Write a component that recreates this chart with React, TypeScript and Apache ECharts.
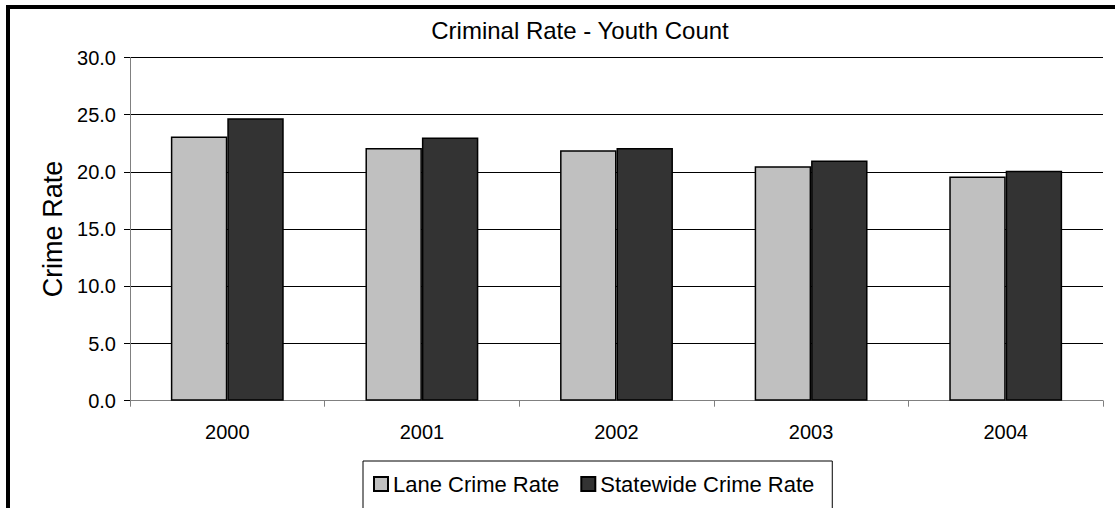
import React, { useEffect, useRef } from "react";
import * as echarts from "echarts";

const years = ["2000", "2001", "2002", "2003", "2004"];
const laneRate = [23.1, 22.1, 21.9, 20.5, 19.6];
const statewideRate = [24.7, 23.0, 22.1, 21.0, 20.1];
const yTicks = { min: 0, max: 30, interval: 5 };
const titleText = "Criminal Rate - Youth Count";
const yName = "Crime Rate";
const seriesNames = ["Lane Crime Rate", "Statewide Crime Rate"];

const FONT = "'Liberation Sans', Arial, sans-serif";

export default function App() {
  const ref = useRef<HTMLDivElement>(null);
  useEffect(() => {
    if (!ref.current) return;
    const chart = echarts.init(ref.current, undefined, { renderer: "svg" });
    chart.setOption({
      animation: false,
      backgroundColor: "#fff",
      textStyle: { fontFamily: FONT },
      graphic: [
        {
          type: "rect",
          shape: { x: 8, y: 7, width: 1300, height: 700 },
          style: { fill: "none", stroke: "#000", lineWidth: 4 },
          silent: true,
        },
        {
          type: "text",
          x: 580,
          y: 18,
          style: {
            text: titleText,
            fontSize: 24,
            fontFamily: FONT,
            fill: "#000",
            textAlign: "center",
            textVerticalAlign: "top",
          },
        },
      ],
      legend: {
        left: 363,
        top: 461,
        padding: [12, 18, 20, 10],
        borderColor: "#000",
        borderWidth: 1,
        itemWidth: 14,
        itemHeight: 14,
        itemGap: 21,
        icon: "rect",
        textStyle: { fontSize: 22, color: "#000", fontFamily: FONT },
        data: seriesNames,
      },
      grid: { left: 130, right: 12, top: 57.5, bottom: 107.3 },
      xAxis: {
        type: "category",
        data: years,
        axisLine: { lineStyle: { color: "#808080", width: 1 } },
        axisTick: { show: true, length: 6, lineStyle: { color: "#808080" } },
        axisLabel: { fontSize: 20, color: "#000", margin: 21, fontFamily: FONT },
        splitLine: { show: false },
      },
      yAxis: {
        type: "value",
        min: yTicks.min,
        max: yTicks.max,
        interval: yTicks.interval,
        name: yName,
        nameLocation: "middle",
        nameRotate: 90,
        nameGap: 64,
        nameTextStyle: { fontSize: 27, color: "#000", fontFamily: FONT },
        axisLine: { show: true, lineStyle: { color: "#808080", width: 1 } },
        axisTick: { show: true, length: 6, lineStyle: { color: "#000" } },
        axisLabel: {
          fontSize: 20,
          color: "#000",
          margin: 14,
          fontFamily: FONT,
          formatter: (v: number) => v.toFixed(1),
        },
        splitLine: { show: true, lineStyle: { color: "#000", width: 1 } },
      },
      series: [
        {
          name: seriesNames[0],
          type: "bar",
          data: laneRate,
          barGap: "0%",
          barCategoryGap: "42%",
          itemStyle: { color: "#C0C0C0", borderColor: "#000", borderWidth: 1.5 },
        },
        {
          name: seriesNames[1],
          type: "bar",
          data: statewideRate,
          barGap: "0%",
          barCategoryGap: "42%",
          itemStyle: { color: "#333333", borderColor: "#000", borderWidth: 1.5 },
        },
      ],
    });
    return () => chart.dispose();
  }, []);
  return (
    <div
      ref={ref}
      style={{ position: "fixed", left: 0, top: 0, width: 1115, height: 508 }}
    />
  );
}
